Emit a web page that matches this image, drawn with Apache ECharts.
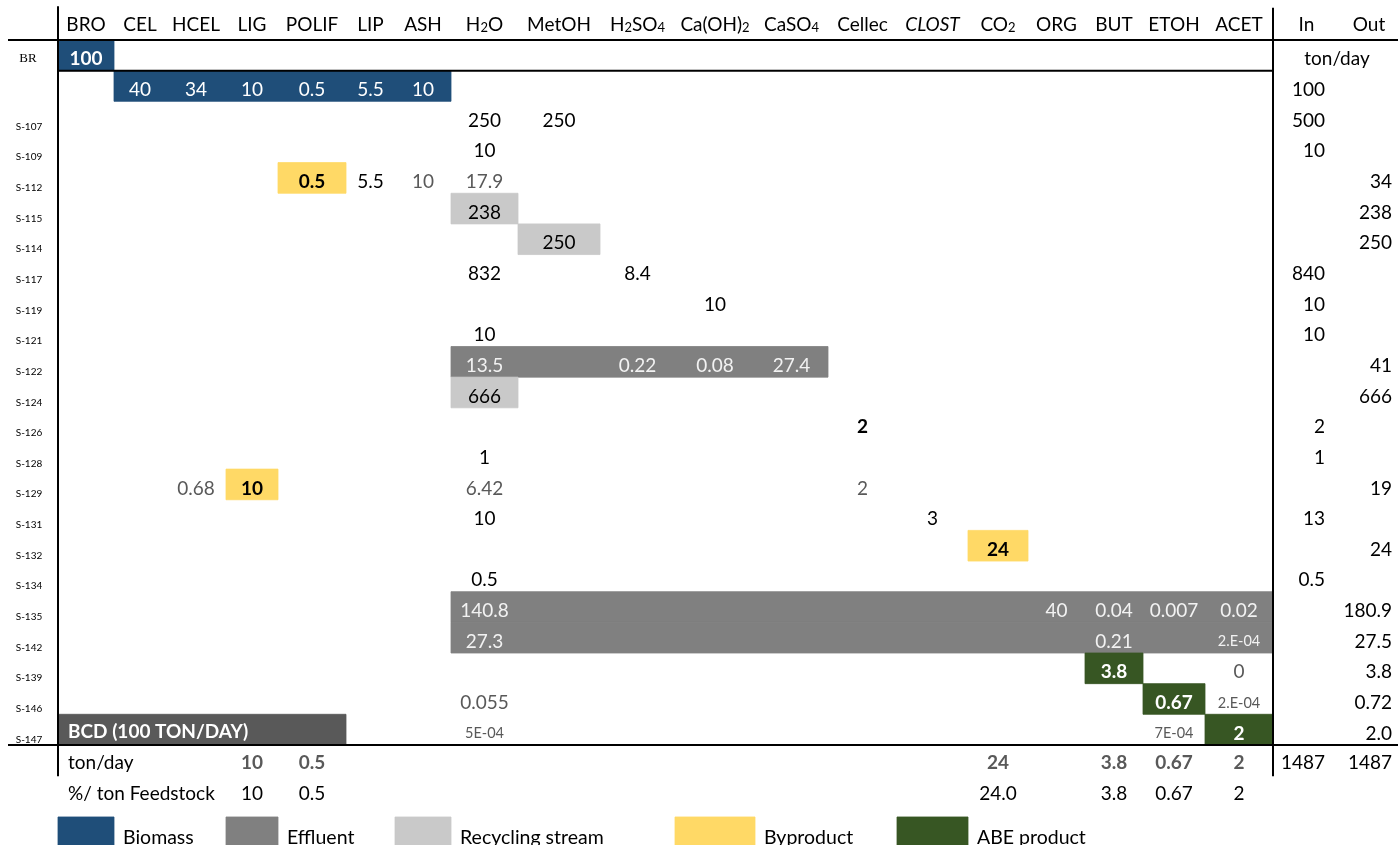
<!DOCTYPE html>
<html lang="en">
<head>
<meta charset="utf-8">
<script src="https://cdn.jsdelivr.net/npm/echarts@6/dist/echarts.min.js"></script>
</head>
<body style="margin: 0; background: #fff">
<div id="main" style="width: 1398px; height: 845px"></div>
<script>
// ---- data ----
var columns = ['BRO', 'CEL', 'HCEL', 'LIG', 'POLIF', 'LIP', 'ASH', 'H₂O', 'MetOH', 'H₂SO₄', 'Ca(OH)₂', 'CaSO₄',
               'Cellec', 'CLOST', 'CO₂', 'ORG', 'BUT', 'ETOH', 'ACET'];
var streams = ['BR', '', 'S-107', 'S-109', 'S-112', 'S-115', 'S-114', 'S-117', 'S-119', 'S-121', 'S-122', 'S-124',
               'S-126', 'S-128', 'S-129', 'S-131', 'S-132', 'S-134', 'S-135', 'S-142', 'S-139', 'S-146', 'S-147'];

// [stream, component, ton/day, note]  note: 'calc' = computed value, 'key' = highlighted input
var flows = [
    ['BR', 'BRO', '100', 'key'],
    ['', 'CEL', '40'], ['', 'HCEL', '34'], ['', 'LIG', '10'], ['', 'POLIF', '0.5'], ['', 'LIP', '5.5'], ['', 'ASH', '10'],
    ['S-107', 'H₂O', '250'], ['S-107', 'MetOH', '250'],
    ['S-109', 'H₂O', '10'],
    ['S-112', 'POLIF', '0.5'], ['S-112', 'LIP', '5.5'], ['S-112', 'ASH', '10', 'calc'], ['S-112', 'H₂O', '17.9', 'calc'],
    ['S-115', 'H₂O', '238'],
    ['S-114', 'MetOH', '250'],
    ['S-117', 'H₂O', '832'], ['S-117', 'H₂SO₄', '8.4'],
    ['S-119', 'Ca(OH)₂', '10'],
    ['S-121', 'H₂O', '10'],
    ['S-122', 'H₂O', '13.5'], ['S-122', 'H₂SO₄', '0.22'], ['S-122', 'Ca(OH)₂', '0.08'], ['S-122', 'CaSO₄', '27.4'],
    ['S-124', 'H₂O', '666'],
    ['S-126', 'Cellec', '2', 'key'],
    ['S-128', 'H₂O', '1'],
    ['S-129', 'HCEL', '0.68', 'calc'], ['S-129', 'LIG', '10'], ['S-129', 'H₂O', '6.42', 'calc'], ['S-129', 'Cellec', '2', 'calc'],
    ['S-131', 'H₂O', '10'], ['S-131', 'CLOST', '3'],
    ['S-132', 'CO₂', '24'],
    ['S-134', 'H₂O', '0.5'],
    ['S-135', 'H₂O', '140.8'], ['S-135', 'ORG', '40'], ['S-135', 'BUT', '0.04'], ['S-135', 'ETOH', '0.007'], ['S-135', 'ACET', '0.02'],
    ['S-142', 'H₂O', '27.3'], ['S-142', 'BUT', '0.21'], ['S-142', 'ACET', '2.E-04'],
    ['S-139', 'BUT', '3.8'], ['S-139', 'ACET', '0', 'calc'],
    ['S-146', 'H₂O', '0.055', 'calc'], ['S-146', 'ETOH', '0.67'], ['S-146', 'ACET', '2.E-04', 'calc'],
    ['S-147', 'H₂O', '5E-04', 'calc'], ['S-147', 'ETOH', '7E-04', 'calc'], ['S-147', 'ACET', '2']
];

// [stream, first component, last component, stream type]
var streamTypes = [
    ['BR', 'BRO', 'BRO', 'Biomass'],
    ['', 'CEL', 'ASH', 'Biomass'],
    ['S-112', 'POLIF', 'POLIF', 'Byproduct'],
    ['S-115', 'H₂O', 'H₂O', 'Recycling stream'],
    ['S-114', 'MetOH', 'MetOH', 'Recycling stream'],
    ['S-122', 'H₂O', 'CaSO₄', 'Effluent'],
    ['S-124', 'H₂O', 'H₂O', 'Recycling stream'],
    ['S-129', 'LIG', 'LIG', 'Byproduct'],
    ['S-132', 'CO₂', 'CO₂', 'Byproduct'],
    ['S-135', 'H₂O', 'ACET', 'Effluent'],
    ['S-142', 'H₂O', 'ACET', 'Effluent'],
    ['S-139', 'BUT', 'BUT', 'ABE product'],
    ['S-146', 'ETOH', 'ETOH', 'ABE product'],
    ['S-147', 'ACET', 'ACET', 'ABE product']
];

var streamIn = [['', '100'], ['S-107', '500'], ['S-109', '10'], ['S-117', '840'], ['S-119', '10'], ['S-121', '10'],
                ['S-126', '2'], ['S-128', '1'], ['S-131', '13'], ['S-134', '0.5']];
var streamOut = [['S-112', '34'], ['S-115', '238'], ['S-114', '250'], ['S-122', '41'], ['S-124', '666'], ['S-129', '19'],
                 ['S-132', '24'], ['S-135', '180.9'], ['S-142', '27.5'], ['S-139', '3.8'], ['S-146', '0.72'], ['S-147', '2.0']];

var productTon = [['LIG', '10'], ['POLIF', '0.5'], ['CO₂', '24'], ['BUT', '3.8'], ['ETOH', '0.67'], ['ACET', '2']];
var productPct = [['LIG', '10'], ['POLIF', '0.5'], ['CO₂', '24.0'], ['BUT', '3.8'], ['ETOH', '0.67'], ['ACET', '2']];
var totalIn = '1487', totalOut = '1487';
var bcdLabel = 'BCD (100 TON/DAY)';

var legendNames = ['Biomass', 'Effluent', 'Recycling stream', 'Byproduct', 'ABE product'];

// ---- layout ----
var colEdges = [58, 114, 166, 226, 278, 346, 395, 451, 518, 600, 675, 755, 828, 897, 968, 1028, 1085, 1143, 1205, 1273, 1340, 1398];
var rowH = 30.65, tableTop = 40;
var legendCols = ['BRO', 'LIG', 'ASH', 'Ca(OH)₂', 'CLOST'];
var typeColor = {
    'Biomass': '#1f4e79', 'Effluent': '#808080', 'Recycling stream': '#c9c9c9',
    'Byproduct': '#ffd966', 'ABE product': '#375623'
};
var FONT = 'Lato, "DejaVu Sans", sans-serif';
var FS = 19;

function ci(name) { return columns.indexOf(name); }
function ri(name) { return streams.indexOf(name); }
function mid(i) { return (colEdges[i] + colEdges[i + 1]) / 2; }
function typeOf(stream, col) {
    for (var i = 0; i < streamTypes.length; i++) {
        var t = streamTypes[i];
        if (t[0] === stream && col >= ci(t[1]) && col <= ci(t[2])) return t[3];
    }
    return null;
}
// chemical formula subscripts as rich text
function formula(s) {
    return s.replace(/₂/g, '{s|2}').replace(/₄/g, '{s|4}');
}

// text items
var texts = [];
function addText(x, r, text, o) {
    o = o || {};
    texts.push({ x: x, r: r, text: text, align: o.align || 'center', fill: o.fill || '#000',
                 size: o.size || FS, bold: !!o.bold, italic: !!o.italic, family: o.family || FONT });
}

columns.forEach(function (c, i) {
    addText(mid(i), -0.5, formula(c), { italic: c === 'CLOST' });
});
addText(mid(19), -0.5, 'In');
addText(mid(20), -0.5, 'Out');
addText(colEdges[19] + 64, 0.6, 'ton/day');

streams.forEach(function (s, r) {
    if (!s) return;
    if (s === 'BR') addText(28, r + 0.62, s, { size: 13, family: '"Liberation Serif", serif' });
    else addText(29, r + 0.82, s, { size: 10 });
});

var VY = 0.63;
flows.forEach(function (f) {
    var c = ci(f[1]), r = ri(f[0]), t = typeOf(f[0], c);
    var o = { size: /E/.test(f[2]) ? 14.5 : FS };
    if (t === 'Biomass' || t === 'ABE product') o.fill = '#fff';
    if (t === 'Effluent') o.fill = '#f2f2f2';
    if (t === 'Byproduct' || t === 'ABE product' || f[3] === 'key') o.bold = true;
    if (f[3] === 'calc' && !t) o.fill = '#595959';
    addText(mid(c), r + VY, f[2], o);
});

streamIn.forEach(function (d) { addText(1325, ri(d[0]) + VY, d[1], { align: 'right' }); });
streamOut.forEach(function (d) { addText(1392, ri(d[0]) + VY, d[1], { align: 'right' }); });

var rowTon = streams.length, rowPct = streams.length + 1;
addText(68, rowTon + 0.58, 'ton/day', { align: 'left' });
addText(68, rowPct + 0.58, '%/ ton Feedstock', { align: 'left' });
productTon.forEach(function (d) { addText(mid(ci(d[0])), rowTon + 0.58, d[1], { bold: true, fill: '#595959' }); });
productPct.forEach(function (d) { addText(mid(ci(d[0])), rowPct + 0.58, d[1]); });
addText(1325, rowTon + 0.58, totalIn, { align: 'right' });
addText(1392, rowTon + 0.58, totalOut, { align: 'right' });

addText(68, ri('S-147') + 0.58, bcdLabel, { align: 'left', bold: true, fill: '#fff' });

var legendRow = 25.35;
legendNames.forEach(function (n, i) {
    var c = ci(legendCols[i]);
    addText(colEdges[c + 1] + 9, legendRow + 0.68, n, { align: 'left', size: 19.5 });
});

// filled cells
var boxes = streamTypes.map(function (t) {
    var r = ri(t[0]);
    return { v: [colEdges[ci(t[1])], r, colEdges[ci(t[2]) + 1], r + 1], fill: typeColor[t[3]] };
});
boxes.push({ v: [colEdges[0], ri('S-147'), colEdges[ci('LIP')], ri('S-147') + 1], fill: '#595959' });
legendNames.forEach(function (n, i) {
    var c = ci(legendCols[i]);
    boxes.push({ v: [colEdges[c], legendRow, colEdges[c + 1], legendRow + 1.1], fill: typeColor[n] });
});

// table rules
var rules = [
    [8, 0, 1398, 0],
    [58, 1, 1273, 1],
    [8, streams.length, 1398, streams.length],
    [58, -1.1, 58, rowTon + 1.02],
    [1273, -1.05, 1273, rowTon + 1.02]
];

var chart = echarts.init(document.getElementById('main'));
var option = {
    animation: false,
    grid: { left: 0, right: 0, top: 0, bottom: 0 },
    xAxis: { type: 'value', min: 0, max: 1398, show: false },
    yAxis: { type: 'value', inverse: true, min: -tableTop / rowH, max: (845 - tableTop) / rowH, show: false },
    series: [
        {
            type: 'custom', silent: true,
            data: boxes.map(function (b) { return b.v; }),
            renderItem: function (params, api) {
                var p0 = api.coord([api.value(0), api.value(1)]);
                var p1 = api.coord([api.value(2), api.value(3)]);
                var fill = boxes[params.dataIndex].fill;
                return { type: 'rect', shape: { x: p0[0], y: p0[1], width: p1[0] - p0[0], height: p1[1] - p0[1] },
                         style: { fill: fill, stroke: fill, lineWidth: 0.8 } };
            }
        },
        {
            type: 'custom', silent: true,
            data: rules,
            renderItem: function (params, api) {
                var p0 = api.coord([api.value(0), api.value(1)]);
                var p1 = api.coord([api.value(2), api.value(3)]);
                return { type: 'line', shape: { x1: p0[0], y1: p0[1], x2: p1[0], y2: p1[1] },
                         style: { stroke: '#000', lineWidth: 2 } };
            }
        },
        {
            type: 'custom', silent: true,
            data: texts.map(function (t) { return [t.x, t.r]; }),
            renderItem: function (params, api) {
                var t = texts[params.dataIndex];
                var p = api.coord([api.value(0), api.value(1)]);
                return {
                    type: 'text', x: p[0], y: p[1],
                    style: {
                        text: t.text, fill: t.fill, align: t.align, verticalAlign: 'middle',
                        fontSize: t.size, fontFamily: t.family,
                        fontWeight: t.bold ? 'bold' : 'normal', fontStyle: t.italic ? 'italic' : 'normal',
                        rich: { s: { fontSize: 13, fontFamily: FONT, fill: t.fill, verticalAlign: 'bottom' } }
                    }
                };
            }
        }
    ]
};
chart.setOption(option);
</script>
</body>
</html>
